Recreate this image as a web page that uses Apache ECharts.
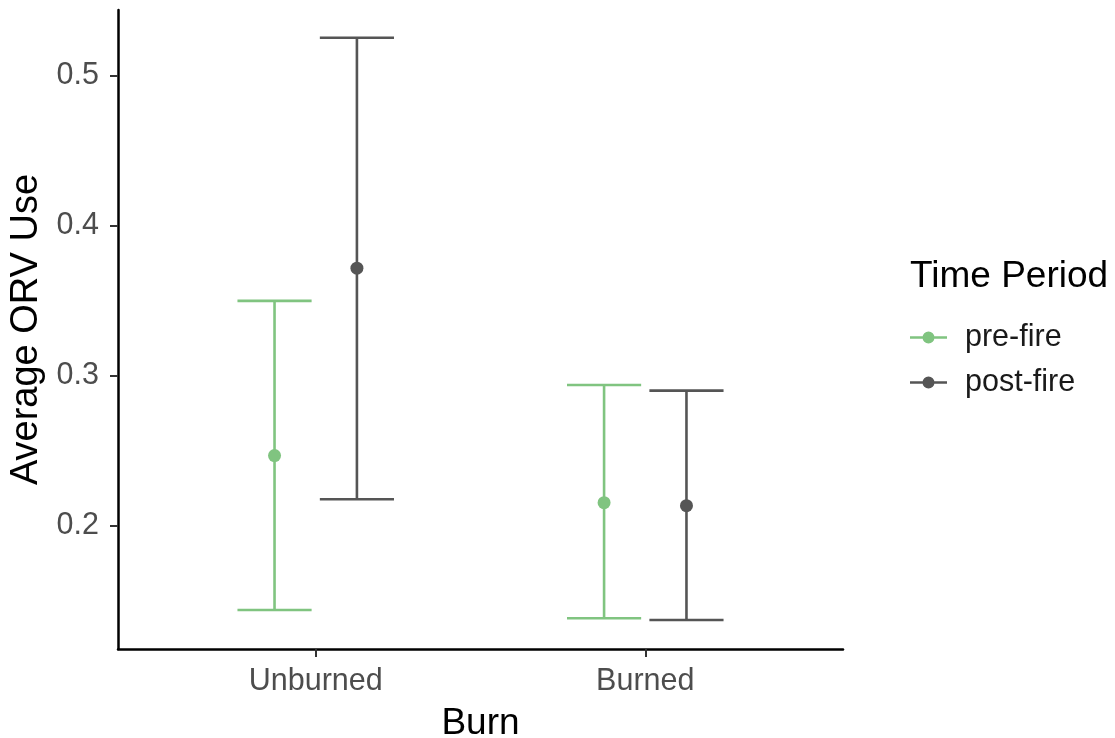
<!DOCTYPE html>
<html>
<head>
<meta charset="utf-8">
<script src="https://cdn.jsdelivr.net/npm/echarts@6/dist/echarts.min.js"></script>
<style>
  html, body { margin: 0; padding: 0; background: #fff; }
  #chart { width: 1115px; height: 738px; }
</style>
</head>
<body>
<div id="chart"></div>
<script>
// categories on the x axis and the two time periods
const categories = ['Unburned', 'Burned'];
const periods = ['pre-fire', 'post-fire'];

// mean and interval ends, one value per category
const preMean = [0.2467, 0.2153];
const preLow = [0.1438, 0.1383];
const preHigh = [0.3498, 0.2938];

const postMean = [0.3716, 0.2133];
const postLow = [0.2176, 0.1371];
const postHigh = [0.5252, 0.2900];

const yTicks = [0.2, 0.3, 0.4, 0.5];

const colors = ['#80C480', '#555555'];
const font = '"Liberation Sans", Arial, Helvetica, sans-serif';
const dodge = 0.125;   // half the dodge width, in category units
const capHalf = 0.1125;

function rows(mean, low, high, shift) {
  return categories.map((c, i) => [i + 1 + shift, mean[i], low[i], high[i]]);
}

const groups = [
  rows(preMean, preLow, preHigh, -dodge),
  rows(postMean, postLow, postHigh, dodge)
];

function renderBar(color) {
  return function (params, api) {
    const x = api.value(0);
    const top = api.coord([x, api.value(3)]);
    const bot = api.coord([x, api.value(2)]);
    const left = api.coord([x - capHalf, api.value(3)])[0];
    const right = api.coord([x + capHalf, api.value(3)])[0];
    const style = { stroke: color, lineWidth: 2.6, fill: null };
    return {
      type: 'group',
      children: [
        { type: 'line', shape: { x1: top[0], y1: top[1], x2: bot[0], y2: bot[1] }, style: style },
        { type: 'line', shape: { x1: left, y1: top[1], x2: right, y2: top[1] }, style: style },
        { type: 'line', shape: { x1: left, y1: bot[1], x2: right, y2: bot[1] }, style: style }
      ]
    };
  };
}

const series = [];
periods.forEach((p, k) => {
  series.push({
    name: p,
    type: 'custom',
    renderItem: renderBar(colors[k]),
    encode: { x: 0, y: [2, 3] },
    data: groups[k],
    itemStyle: { color: colors[k] },
    silent: true
  });
  series.push({
    name: p,
    type: 'scatter',
    symbolSize: 13,
    encode: { x: 0, y: 1 },
    data: groups[k],
    itemStyle: { color: colors[k], opacity: 1 },
    z: 3
  });
});

// key: short line with a dot on it
const keyIcon = 'path://M0,4.8 L37,4.8 L37,7.2 L0,7.2 Z M12.5,6 A6,6 0 1,1 24.5,6 A6,6 0 1,1 12.5,6 Z';

const option = {
  backgroundColor: '#ffffff',
  animation: false,
  textStyle: { fontFamily: font },
  title: {
    text: 'Time Period',
    left: 905,
    top: 253,
    textStyle: { fontFamily: font, fontSize: 37, fontWeight: 'normal', color: '#000' }
  },
  legend: {
    orient: 'vertical',
    left: 905,
    top: 317,
    itemWidth: 37,
    itemHeight: 12,
    itemGap: 14,
    data: periods.map(p => ({ name: p, icon: keyIcon })),
    textStyle: { fontFamily: font, fontSize: 30.5, color: '#1a1a1a', lineHeight: 30, padding: [0, 0, 0, 13] },
    selectedMode: false
  },
  grid: { left: 118, right: 272, top: 10, bottom: 89, outerBoundsMode: 'none' },
  xAxis: {
    type: 'value',
    min: 0.4,
    max: 2.6,
    name: 'Burn',
    nameLocation: 'middle',
    nameGap: 56,
    nameTextStyle: { fontFamily: font, fontSize: 37, color: '#000' },
    axisLine: { show: true, onZero: false, lineStyle: { color: '#000', width: 2.5 } },
    axisTick: { show: true, customValues: [1, 2], length: 8, lineStyle: { color: '#333', width: 2 } },
    axisLabel: {
      customValues: [1, 2],
      formatter: v => categories[Math.round(v) - 1],
      fontSize: 30.5,
      color: '#4d4d4d',
      margin: 17
    },
    splitLine: { show: false }
  },
  yAxis: {
    type: 'value',
    min: 0.1178,
    max: 0.5437,
    name: 'Average ORV Use',
    nameLocation: 'middle',
    nameGap: 65,
    nameTextStyle: { fontFamily: font, fontSize: 38, color: '#000' },
    axisLine: { show: true, onZero: false, lineStyle: { color: '#000', width: 2.5 } },
    axisTick: { show: true, customValues: yTicks, length: 8, lineStyle: { color: '#333', width: 2 } },
    axisLabel: {
      customValues: yTicks,
      formatter: v => v.toFixed(1),
      fontSize: 30.5,
      color: '#4d4d4d',
      margin: 19
    },
    splitLine: { show: false }
  },
  series: series
};

const chart = echarts.init(document.getElementById('chart'));
chart.setOption(option);
</script>
</body>
</html>
